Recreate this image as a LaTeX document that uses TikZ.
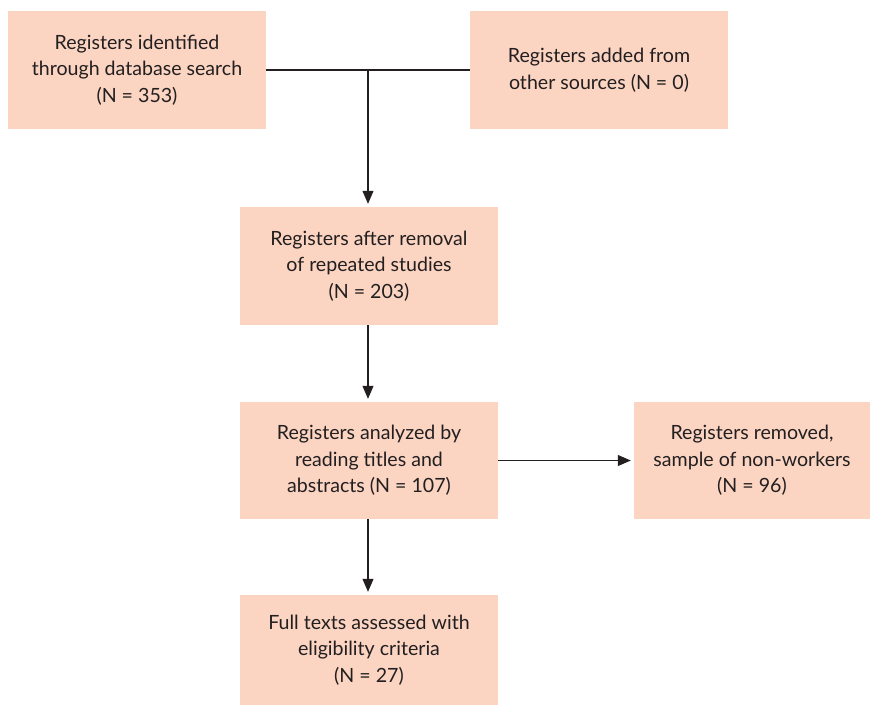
\documentclass[tikz,border=0pt]{standalone}
\usepackage{fontspec}
\setmainfont{Lato}
\usetikzlibrary{arrows.meta}
\definecolor{boxfill}{HTML}{FBD4C2}
\definecolor{ink}{HTML}{231F20}
\tikzset{
  flowbox/.style={rectangle, fill=boxfill, draw=none, text=ink, align=center,
    font=\fontsize{19.6}{26.5}\selectfont, inner sep=0pt, minimum width=258pt},
  link/.style={draw=ink, line width=1.1pt},
  arr/.style={link, -{Triangle[length=13pt,width=11pt]}, shorten >=3pt}
}
\begin{document}
\begin{tikzpicture}[x=1pt,y=-1pt]
\useasboundingbox (0,0) rectangle (881,705);
\node[flowbox, minimum height=118pt] (b1) at (137,70) {Registers identified\\through database search\\(N = 353)};
\node[flowbox, minimum height=118pt] (b2) at (599,70) {Registers added from\\other sources (N = 0)};
\node[flowbox, minimum height=118pt] (b3) at (369,266) {Registers after removal\\of repeated studies\\(N = 203)};
\node[flowbox, minimum height=117pt] (b4) at (369,460.5) {Registers analyzed by\\reading titles and\\abstracts (N = 107)};
\node[flowbox, minimum height=117pt, minimum width=236pt] (b5) at (752,460.5) {Registers removed,\\sample of non-workers\\(N = 96)};
\node[flowbox, minimum height=110pt] (b6) at (369,650) {Full texts assessed with\\eligibility criteria\\(N = 27)};
\coordinate (j) at (368,70);
\draw[link] (b1.east) -- (b2.west);
\draw[arr] (j) -- (j |- b3.north);
\draw[arr] (b3.south -| j) -- (j |- b4.north);
\draw[arr] (b4.east) -- (b5.west);
\draw[arr] (b4.south -| j) -- (j |- b6.north);
\end{tikzpicture}
\end{document}
